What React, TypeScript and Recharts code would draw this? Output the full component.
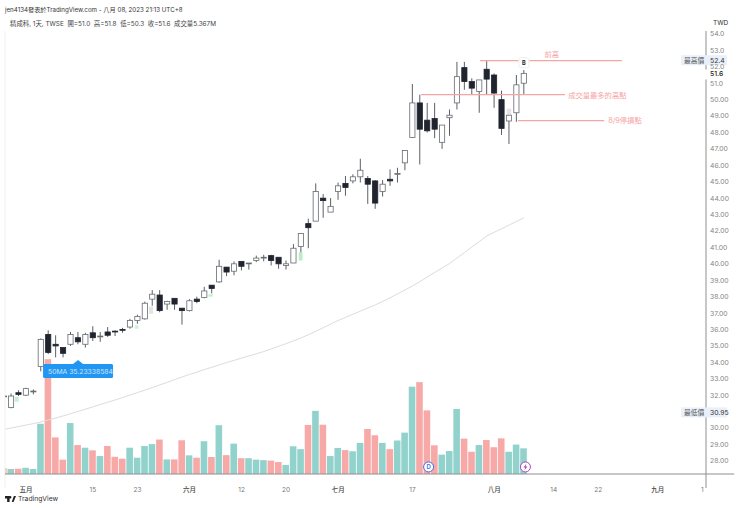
import {
  ComposedChart,
  Bar,
  Line,
  Cell,
  XAxis,
  YAxis,
  ReferenceLine,
  ReferenceDot,
  ReferenceArea,
} from "recharts";

const FONT = "Inter, 'Noto Sans CJK TC', sans-serif";
const UP_VOL = "#92d2cc";
const DOWN_VOL = "rgba(239,83,80,0.5)";
const DARK = "#20242e";
const PINK = "#f6a5a5";

// 精成科 daily bars, index 0 is the sliver cut off by the left edge
const opens = [
  31.95, 31.25, 32.15, 32.0, 32.2, 33.75, 35.7, 35.1, 34.9, 35.1, 35.5, 35.1, 35.8, 35.55, 35.85, 35.9, 36.0, 36.15,
  36.55, 36.65, 37.85, 38.1, 37.55, 37.9, 37.3, 37.15, 37.85, 37.95, 38.7, 38.9, 39.8, 39.55, 40.15, 40.0, 40.2, 40.35,
  40.5, 40.4, 39.9, 40.05, 41.05, 42.45, 42.6, 44.0, 43.15, 44.4, 44.9, 45.05, 45.3, 45.2, 45.05, 44.4, 45.15, 45.45,
  46.15, 47.7, 49.8, 48.75, 48.85, 47.4, 48.9, 49.8, 51.95, 51.1, 50.5, 51.85, 51.5, 50.0, 48.7, 49.2, 51.0,
];
const highs = [
  32.0, 32.1, 32.3, 32.45, 32.35, 35.45, 35.95, 35.65, 34.9, 35.85, 35.85, 35.8, 36.2, 35.85, 36.15, 35.95, 36.1, 36.65,
  36.9, 37.7, 38.4, 38.4, 37.75, 37.9, 37.3, 37.85, 38.0, 38.6, 38.7, 40.25, 39.8, 40.15, 40.15, 40.05, 40.5, 40.55,
  40.55, 40.4, 40.2, 41.2, 41.85, 42.75, 44.9, 44.25, 44.0, 44.95, 45.35, 45.45, 46.4, 45.35, 45.1, 45.1, 45.75, 45.85,
  46.9, 50.95, 50.3, 49.8, 49.8, 48.45, 49.4, 52.3, 52.3, 51.3, 51.2, 52.35, 51.6, 50.55, 49.05, 51.5, 51.8,
];
const lows = [
  31.85, 31.2, 31.95, 31.95, 32.05, 33.45, 34.5, 34.3, 34.3, 35.0, 35.1, 34.9, 35.3, 35.25, 35.55, 35.6, 35.8, 36.05,
  36.35, 36.6, 37.45, 37.05, 37.2, 37.2, 36.3, 37.1, 37.6, 37.9, 38.2, 38.85, 39.25, 39.3, 39.6, 39.65, 40.1, 40.15,
  39.9, 39.7, 39.65, 40.05, 40.7, 40.95, 42.6, 42.8, 43.15, 43.9, 44.15, 44.9, 44.95, 43.65, 43.35, 44.1, 44.75, 44.95,
  45.7, 47.7, 46.05, 48.0, 47.65, 47.0, 47.8, 49.4, 50.6, 50.3, 49.2, 50.3, 49.5, 47.85, 47.3, 48.65, 50.3,
];
const closes = [
  31.9, 31.95, 32.05, 32.4, 32.25, 35.4, 34.6, 35.0, 34.55, 35.7, 35.25, 35.7, 35.5, 35.6, 35.65, 35.85, 35.95, 36.55,
  36.8, 37.6, 38.15, 37.15, 37.7, 37.55, 37.15, 37.75, 37.7, 38.35, 38.5, 39.85, 39.5, 40.0, 39.85, 40.05, 40.35, 40.4,
  40.2, 40.0, 40.0, 40.95, 41.85, 42.2, 44.4, 43.85, 43.5, 44.75, 44.65, 45.3, 45.7, 44.85, 43.7, 44.85, 45.05, 45.5,
  46.9, 49.8, 48.2, 48.1, 48.2, 48.45, 49.05, 51.4, 51.1, 50.7, 51.2, 51.25, 50.4, 48.25, 49.05, 50.9, 51.6,
];
// volume in millions of shares
const volumes = [
  1.25, 1.05, 1.1, 1.3, 1.05, 10.5, 24.0, 7.65, 3.0, 10.65, 6.05, 5.5, 4.95, 3.75, 5.85, 3.6, 3.2, 5.5, 3.4, 5.85, 6.25,
  7.2, 3.05, 3.05, 7.05, 3.9, 3.4, 6.85, 3.55, 10.2, 3.95, 6.35, 3.3, 3.3, 3.0, 2.9, 2.8, 2.5, 1.9, 5.8, 5.2, 10.25,
  13.2, 10.3, 3.75, 5.45, 5.0, 4.75, 6.5, 9.4, 8.1, 6.5, 5.2, 7.0, 8.65, 18.25, 19.2, 13.3, 6.0, 4.05, 4.8, 13.6, 7.4,
  4.65, 6.05, 7.1, 5.6, 7.45, 4.65, 6.15, 5.367,
];
const ma50 = [
  29.91, 30.0, 30.09, 30.18, 30.27, 30.37, 30.49, 30.61, 30.74, 30.87, 31.01, 31.15, 31.29, 31.43, 31.57, 31.71, 31.86,
  32.01, 32.16, 32.31, 32.46, 32.63, 32.78, 32.95, 33.11, 33.26, 33.41, 33.56, 33.7, 33.84, 33.99, 34.12, 34.26, 34.39,
  34.52, 34.66, 34.82, 34.98, 35.14, 35.31, 35.49, 35.68, 35.89, 36.11, 36.33, 36.55, 36.74, 36.93, 37.12, 37.31, 37.5,
  37.71, 37.93, 38.17, 38.41, 38.65, 38.92, 39.2, 39.48, 39.75, 40.02, 40.36, 40.69, 41.03, 41.36, 41.7, 41.92, 42.14,
  42.36, 42.58, 42.8,
];

const xTicks = [3, 12, 18, 25, 32, 38, 45, 55, 66, 74, 80, 88, 94];
const xTickLabels = ["五月", "15", "23", "六月", "12", "20", "七月", "17", "八月", "14", "22", "九月", "1"];
// 31 sits under the 最低價 tag in the picture, so it is left out
const yTicks = [
  28, 29, 30, 32, 33, 34, 35, 36, 37, 38, 39, 40, 41, 42, 43, 44, 45, 46, 47, 48, 49, 50, 51, 52, 53, 54,
];

// pale gap markers left on the chart
const gapZones = [
  { x1: 1.48, x2: 2.02, y1: 31.6, y2: 31.9, color: "#c4f2d2" },
  { x1: 17.67, x2: 18.1, y1: 36.05, y2: 36.25, color: "#c4f2d2" },
  { x1: 19.55, x2: 20.1, y1: 36.95, y2: 37.4, color: "#e4e4e4" },
  { x1: 27.53, x2: 28.15, y1: 38.0, y2: 38.15, color: "#c4f2d2" },
  { x1: 39.7, x2: 40.2, y1: 40.2, y2: 40.7, color: "#b6efc6" },
  { x1: 67.7, x2: 68.3, y1: 49.05, y2: 49.45, color: "#e4e4e4" },
];
const noteLines = [
  { x1: 64.1, x2: 83.2, y: 52.37 },
  { x1: 56.16, x2: 75.54, y: 50.3 },
  { x1: 69.2, x2: 80.8, y: 48.72 },
];
const noteTexts = [
  { x: 73.75, y: 52.76, text: "前高", anchor: "middle" },
  { x: 75.95, y: 50.28, text: "成交量最多的高點", anchor: "start" },
  { x: 81.33, y: 48.7, text: "8/9停損點", anchor: "start" },
];

const rows = Array.from({ length: 95 }, (_, i) => ({
  index: i,
  open: opens[i],
  high: highs[i],
  low: lows[i],
  close: closes[i],
  range: i < opens.length ? [lows[i], highs[i]] : null,
  volume: volumes[i] ?? null,
  ma: ma50[i] ?? null,
}));

function Candle(props: any) {
  const { x, y, width, height, payload } = props;
  if (!payload || payload.range == null) return null;
  const { open, high, low, close } = payload;
  const perUnit = height / (high - low);
  const top = y + (high - Math.max(open, close)) * perUnit;
  const bottom = y + (high - Math.min(open, close)) * perUnit;
  const mid = x + width / 2;
  const up = close >= open;
  return (
    <g>
      <line x1={mid} x2={mid} y1={y} y2={y + height} stroke="#5c5f66" strokeWidth={1} />
      <rect
        x={x}
        y={top}
        width={width}
        height={Math.max(bottom - top, 0.8)}
        fill={up ? "#fff" : DARK}
        stroke={up ? "#666a70" : DARK}
        strokeWidth={0.8}
      />
    </g>
  );
}

function BottomTick(props: any) {
  const { x, y, payload } = props;
  const label = xTickLabels[xTicks.indexOf(payload.value)];
  const isMonth = label.endsWith("月");
  return (
    <text
      x={x}
      y={y + 10}
      textAnchor="middle"
      fontSize={6.5}
      fontFamily={FONT}
      fill={isMonth ? "#444" : "#777"}
      fontWeight={isMonth ? 500 : 400}
    >
      {label}
    </text>
  );
}

function PriceTag({ cx, cy, name, text }: any) {
  return (
    <g fontFamily={FONT} fontSize={6.8}>
      <rect x={cx - 25} y={cy - 5} width={46} height={10} fill="#e9f0fa" />
      <text x={cx - 22} y={cy + 2.5} fill="#555">
        {name}
      </text>
      <text x={cx + 4} y={cy + 2.5} fill="#333">
        {text}
      </text>
    </g>
  );
}

function LastPrice({ cx, cy, text }: any) {
  return (
    <g fontFamily={FONT} fontSize={6.8}>
      <rect x={cx - 1} y={cy - 4} width={26} height={10} fill="#fff" />
      <text x={cx + 4} y={cy + 2.5} fill="#222" fontWeight={500}>
        {text}
      </text>
    </g>
  );
}

function MaCallout({ cx, cy }: any) {
  return (
    <g>
      <path d={`M${cx - 5} ${cy + 4}L${cx} ${cy}L${cx + 5} ${cy + 4}Z`} fill="#2196f3" />
      <rect x={cx - 35} y={cy + 4} width={70} height={14} rx={1.5} fill="#2196f3" />
    </g>
  );
}

function NoteText({ cx, cy, text, anchor }: any) {
  return (
    <text x={cx} y={cy + 2.5} fontSize={7.3} fontFamily={FONT} fill={PINK} textAnchor={anchor}>
      {text}
    </text>
  );
}

function BuyMark({ cx, cy }: any) {
  return (
    <g>
      <rect x={cx - 5} y={cy - 5} width={10} height={10} rx={2} fill="#fff" stroke="#eceff2" />
      <text x={cx} y={cy + 2} textAnchor="middle" fontSize={5.5} fontWeight={700} fontFamily={FONT} fill="#222">
        B
      </text>
    </g>
  );
}

function EventMark({ cx, cy, color, glyph }: any) {
  return (
    <g>
      <circle cx={cx} cy={cy} r={5} fill="#fff" stroke={color} strokeWidth={1} />
      {glyph === "D" ? (
        <text x={cx} y={cy + 2.2} textAnchor="middle" fontSize={6} fontWeight={600} fontFamily={FONT} fill={color}>
          D
        </text>
      ) : (
        <path
          d={`M${cx + 1} ${cy - 3.2}L${cx - 2} ${cy + 0.5}H${cx - 0.2}L${cx - 1} ${cy + 3.2}L${cx + 2} ${cy - 0.5}H${cx + 0.2}Z`}
          fill={color}
        />
      )}
    </g>
  );
}

export default function App() {
  return (
    <div style={{ position: "absolute", left: 0, top: 0, width: 740, height: 508, background: "#fff", overflow: "hidden" }}>
      <div style={{ position: "absolute", left: 5, top: 5, fontSize: 6.2, color: "#333", fontFamily: FONT, whiteSpace: "nowrap" }}>
        jen4134發表於TradingView.com - 八月 08, 2023 21:13 UTC+8
      </div>
      <div style={{ position: "absolute", left: 10, top: 19, fontSize: 6.4, color: "#444", fontFamily: FONT, whiteSpace: "pre" }}>
        精成科, 1天, TWSE  開=51.0  高=51.8  低=50.3  收=51.6  成交量5.367M
      </div>
      <div style={{ position: "absolute", left: 713, top: 19, fontSize: 6.5, color: "#333", fontFamily: FONT }}>TWD</div>
      <div style={{ position: "absolute", left: 5, top: 494, display: "flex", alignItems: "center", gap: 2, fontFamily: FONT, fontSize: 6.8, color: "#333" }}>
        <svg width={11} height={8} viewBox="0 0 36 24">
          <path d="M0 2h15v20H7V10H0zM22 22l7-20h7l-8 20zM17 2a4 4 0 1 1 0 8 4 4 0 1 1 0-8z" fill="#222" />
        </svg>
        TradingView
      </div>

      <ComposedChart width={740} height={508} data={rows} margin={{ top: 31, right: 0, bottom: 0, left: 5 }} style={{ position: "absolute", left: 0, top: 0 }}>
        <XAxis
          xAxisId="x"
          dataKey="index"
          type="number"
          domain={[0.17, 94.5]}
          allowDataOverflow
          ticks={xTicks}
          interval={0}
          height={34}
          tickLine={false}
          axisLine={{ stroke: "#8f8f8f" }}
          tick={<BottomTick />}
        />
        <XAxis xAxisId="xv" dataKey="index" type="number" domain={[0.17, 94.5]} allowDataOverflow hide />
        <YAxis
          yAxisId="p"
          orientation="right"
          width={34}
          domain={[27.2, 54.18]}
          allowDataOverflow
          ticks={yTicks}
          interval={0}
          tickLine={false}
          tickSize={0}
          tickMargin={4}
          axisLine={{ stroke: "#8f8f8f" }}
          tickFormatter={(v: number) => (v >= 51 ? v.toFixed(1) : v.toFixed(2))}
          tick={{ fontSize: 6.8, fill: "#858585", fontFamily: FONT }}
        />
        <YAxis yAxisId="v" hide domain={[0, 92.6]} />

        <ReferenceDot xAxisId="x" yAxisId="p" x={10} y={34.15} ifOverflow="visible" shape={<MaCallout />} />
        <Bar xAxisId="xv" yAxisId="v" dataKey="volume" barSize={6.6} isAnimationActive={false}>
          {rows.map((r) => (
            <Cell key={r.index} fill={r.close >= r.open ? UP_VOL : DOWN_VOL} />
          ))}
        </Bar>
        {gapZones.map((g, i) => (
          <ReferenceArea key={i} xAxisId="x" yAxisId="p" x1={g.x1} x2={g.x2} y1={g.y1} y2={g.y2} fill={g.color} fillOpacity={1} stroke="none" />
        ))}
        <Line xAxisId="x" yAxisId="p" dataKey="ma" stroke="#dcdcdc" strokeWidth={1} dot={false} isAnimationActive={false} />
        <Bar xAxisId="x" yAxisId="p" dataKey="range" barSize={5.2} shape={<Candle />} isAnimationActive={false} />

        <ReferenceLine
          xAxisId="x"
          yAxisId="p"
          ifOverflow="visible"
          segment={[
            { x: 94.5, y: 27.2 },
            { x: 98.3, y: 27.2 },
          ]}
          stroke="#8f8f8f"
        />
        <ReferenceLine
          xAxisId="x"
          yAxisId="p"
          ifOverflow="visible"
          segment={[
            { x: 94.5, y: 27.2 },
            { x: 94.5, y: 26.35 },
          ]}
          stroke="#8f8f8f"
        />
        <ReferenceLine
          xAxisId="x"
          yAxisId="p"
          ifOverflow="visible"
          segment={[
            { x: 0.17, y: 54.18 },
            { x: 0.17, y: 26.35 },
          ]}
          stroke="#f1f1f1"
        />
        {noteLines.map((n, i) => (
          <ReferenceLine
            key={i}
            xAxisId="x"
            yAxisId="p"
            segment={[
              { x: n.x1, y: n.y },
              { x: n.x2, y: n.y },
            ]}
            stroke={PINK}
            strokeWidth={1.2}
          />
        ))}
        {noteTexts.map((n, i) => (
          <ReferenceDot key={i} xAxisId="x" yAxisId="p" x={n.x} y={n.y} shape={<NoteText text={n.text} anchor={n.anchor} />} />
        ))}
        <ReferenceDot xAxisId="x" yAxisId="p" x={70} y={52.25} shape={<BuyMark />} />
        <ReferenceDot xAxisId="x" yAxisId="p" x={57.17} y={27.63} shape={<EventMark color="#3f6fe8" glyph="D" />} />
        <ReferenceDot xAxisId="x" yAxisId="p" x={70.2} y={27.63} shape={<EventMark color="#ab47bc" glyph="bolt" />} />
        <ReferenceDot xAxisId="x" yAxisId="p" x={94.5} y={52.4} ifOverflow="visible" shape={<PriceTag name="最高價" text="52.4" />} />
        <ReferenceDot xAxisId="x" yAxisId="p" x={94.5} y={30.95} ifOverflow="visible" shape={<PriceTag name="最低價" text="30.95" />} />
        <ReferenceDot xAxisId="x" yAxisId="p" x={94.5} y={51.6} ifOverflow="visible" shape={<LastPrice text="51.6" />} />
      </ComposedChart>
      <div style={{ position: "absolute", left: 48, top: 367, fontSize: 6.8, color: "#fff", opacity: 0.75, fontFamily: FONT, whiteSpace: "nowrap" }}>50MA 35.23338584</div>
    </div>
  );
}
